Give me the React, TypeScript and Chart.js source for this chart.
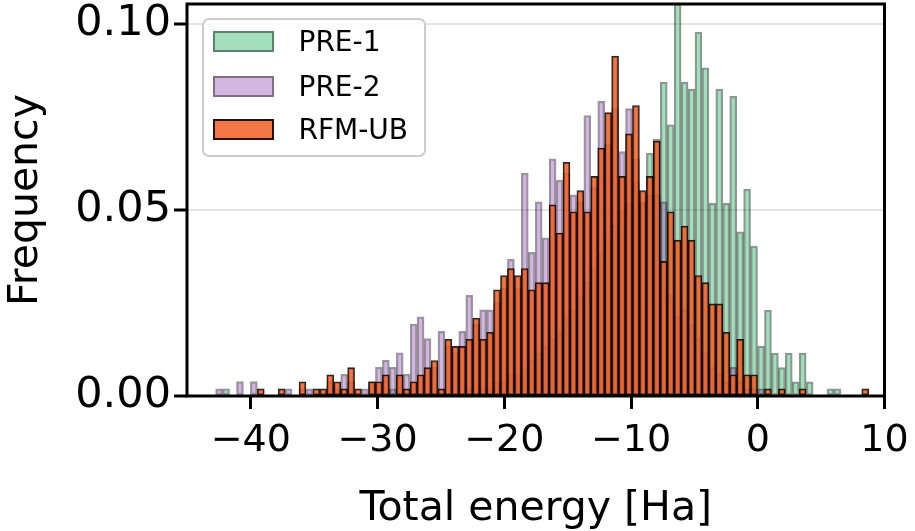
import React, { useEffect, useRef } from 'react';
import { Chart, registerables } from 'chart.js';

Chart.register(...registerables);

// Histogram bins (shared by all series)
const binStart = -42.77;
const binWidth = 0.5481;

// Bin counts, one entry per bin (94 bins)
const pre1Counts = [
  0, 1, 0, 0, 0, 0, 0, 0, 0, 0,
  0, 0, 0, 0, 0, 0, 0, 0, 0, 0,
  0, 0, 0, 0, 0, 1, 0, 0, 0, 0,
  0, 0, 0, 0, 0, 0, 1, 0, 1, 1,
  2, 2, 3, 3, 4, 5, 6, 7, 8, 9,
  11, 12, 14, 16, 18, 20, 22, 24, 26, 27,
  30, 27, 34, 36, 44, 38, 55, 44, 43, 51,
  46, 27, 43, 27, 42, 23, 29, 21, 7, 12,
  6, 4, 6, 2, 6, 2, 0, 0, 1, 1,
  0, 0, 0, 0,
];
const pre2Counts = [
  1, 0, 0, 2, 0, 2, 0, 0, 0, 0,
  1, 0, 1, 1, 0, 0, 2, 1, 3, 2,
  0, 1, 2, 4, 5, 4, 6, 3, 10, 11,
  8, 4, 9, 7, 6, 9, 14, 10, 12, 12,
  13, 15, 19, 15, 31, 20, 27, 22, 33, 30,
  31, 28, 27, 39, 29, 41, 35, 40, 34, 40,
  33, 27, 28, 28, 27, 14, 11, 12, 10, 8,
  6, 4, 3, 2, 4, 2, 1, 1, 1, 0,
  0, 0, 0, 0, 0, 0, 0, 0, 0, 0,
  0, 0, 0, 0,
];
const rfmCounts = [
  0, 0, 0, 0, 0, 0, 1, 0, 0, 1,
  0, 0, 2, 0, 1, 1, 3, 2, 1, 4,
  1, 0, 2, 2, 3, 0, 3, 1, 2, 3,
  4, 5, 1, 8, 7, 7, 8, 11, 8, 9,
  15, 17, 18, 17, 18, 15, 16, 16, 27, 23,
  33, 26, 29, 26, 31, 35, 40, 48, 31, 37,
  41, 29, 31, 36, 19, 26, 22, 24, 22, 17,
  16, 13, 13, 9, 3, 8, 3, 3, 0, 1,
  0, 1, 0, 0, 1, 0, 0, 0, 0, 0,
  0, 0, 0, 1,
];

const seriesLabels = ['PRE-1', 'PRE-2', 'RFM-UB'];
const seriesFill = ['rgba(60,185,115,0.47)', 'rgba(155,89,182,0.43)', 'rgba(242,92,32,0.84)'];
const seriesEdge = ['rgba(0,0,0,0.42)', 'rgba(0,0,0,0.40)', 'rgba(0,0,0,0.85)'];

const xTicks = [-40, -30, -20, -10, 0, 10];
const yTicks = [0, 0.05, 0.1];
const xRange = [-45.03, 10];
const yRange = [0, 0.1054];

const xTitle = 'Total energy [Ha]';
const yTitle = 'Frequency';

function toDensity(counts: number[]) {
  const total = counts.reduce((a, b) => a + b, 0);
  return counts.map((c, i) => ({
    x: binStart + binWidth * (i + 0.5),
    y: c / (total * binWidth),
  }));
}

const framePlugin = {
  id: 'frame',
  afterDraw(chart: any) {
    const { ctx, chartArea } = chart;
    ctx.save();
    ctx.strokeStyle = '#000';
    ctx.lineWidth = 3;
    ctx.strokeRect(chartArea.left, chartArea.top, chartArea.right - chartArea.left, chartArea.bottom - chartArea.top);
    ctx.restore();
  },
};

export default function App() {
  const canvasRef = useRef<HTMLCanvasElement | null>(null);

  useEffect(() => {
    if (!canvasRef.current) return;
    Chart.defaults.font.family = 'DejaVu Sans';
    Chart.defaults.color = '#000';
    const allCounts = [pre1Counts, pre2Counts, rfmCounts];
    const chart = new Chart(canvasRef.current, {
      type: 'bar',
      data: {
        datasets: allCounts.map((counts, k) => ({
          label: seriesLabels[k],
          data: toDensity(counts),
          backgroundColor: seriesFill[k],
          borderColor: seriesEdge[k],
          borderWidth: 1.6,
          borderSkipped: false,
          barPercentage: 1,
          categoryPercentage: 1,
          grouped: false,
          order: 3 - k,
        })) as any,
      },
      options: {
        animation: false,
        responsive: true,
        maintainAspectRatio: false,
        layout: { padding: { left: 0, right: 30.5, top: 4, bottom: 0 } },
        plugins: { legend: { display: false }, tooltip: { enabled: false } },
        scales: {
          x: {
            type: 'linear',
            offset: false,
            min: xRange[0],
            max: xRange[1],
            afterBuildTicks: (s: any) => { s.ticks = xTicks.map((v) => ({ value: v })); },
            afterFit: (s: any) => { s.height = 135; s.paddingLeft = 0; s.paddingRight = 0; },
            ticks: {
              autoSkip: false,
              maxRotation: 0,
              padding: 9,
              font: { size: 38 },
              callback: (v: any) => (Number(v) < 0 ? '\u2212' + Math.abs(Number(v)) : String(v)),
            },
            grid: { offset: false, drawOnChartArea: false, drawTicks: true, tickLength: 13, tickWidth: 3, tickColor: '#000' },
            border: { display: false },
            title: { display: true, text: xTitle, font: { size: 41 }, padding: { top: 0, bottom: -3 } },
          },
          y: {
            type: 'linear',
            min: yRange[0],
            max: yRange[1],
            afterBuildTicks: (s: any) => { s.ticks = yTicks.map((v) => ({ value: v })); },
            afterFit: (s: any) => { s.width = 187; s.paddingTop = 0; s.paddingBottom = 0; },
            ticks: {
              padding: 3,
              font: { size: 43 },
              callback: (v: any) => Number(v).toFixed(2),
            },
            grid: { color: '#e3e3e3', lineWidth: 2, drawTicks: true, tickLength: 13, tickWidth: 3, tickColor: '#000' },
            border: { display: false },
            title: { display: true, text: yTitle, font: { size: 41 }, padding: { top: 2, bottom: 0 } },
          },
        },
      },
      plugins: [framePlugin],
    });
    return () => chart.destroy();
  }, []);

  const rowCenters = [21.5, 66.5, 109.5];

  return (
    <div style={{ position: 'absolute', left: 0, top: 0, width: 915, height: 531, background: '#fff' }}>
      <canvas ref={canvasRef} />
      <div
        style={{
          position: 'absolute',
          left: 202,
          top: 18,
          width: 224,
          height: 139,
          boxSizing: 'border-box',
          border: '2.5px solid #cccccc',
          borderRadius: 7,
          background: 'rgba(255,255,255,0.8)',
          fontFamily: 'DejaVu Sans',
        }}
      >
        {seriesLabels.map((lab, k) => (
          <React.Fragment key={lab}>
            <div
              style={{
                position: 'absolute',
                left: 8.5,
                top: rowCenters[k] - 10.5,
                width: 61,
                height: 21,
                boxSizing: 'border-box',
                background: seriesFill[k],
                border: '2px solid ' + seriesEdge[k],
              }}
            />
            <div
              style={{
                position: 'absolute',
                left: 94.5,
                top: rowCenters[k] - 13.5,
                fontSize: 28,
                lineHeight: '28px',
                color: '#000',
                whiteSpace: 'nowrap',
              }}
            >
              {lab}
            </div>
          </React.Fragment>
        ))}
      </div>
    </div>
  );
}
